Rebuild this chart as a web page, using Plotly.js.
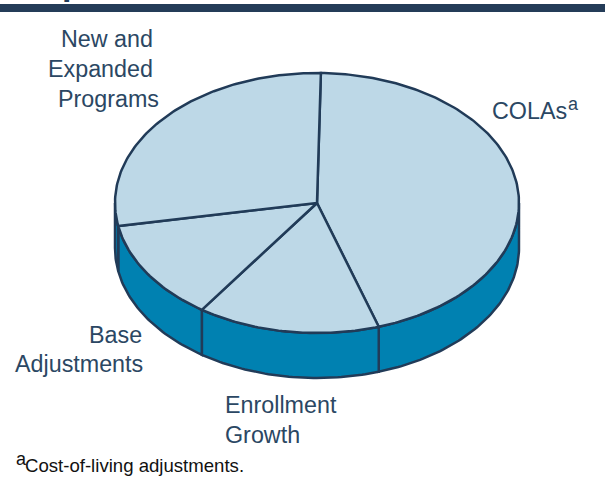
<!DOCTYPE html>
<html>
<head>
<meta charset="utf-8">
<script src="https://cdn.plot.ly/plotly-3.0.1.min.js"></script>
<style>html,body{margin:0;padding:0;background:#fff;overflow:hidden}#chart{width:605px;height:483px}</style>
</head>
<body>
<div id="chart"></div>
<script>
// Data: share of the pie, clockwise from the start angle
var categories = ["COLAs", "Enrollment Growth", "Base Adjustments", "New and Expanded Programs"];
var values = [44.75, 14.6, 12.5, 28.15];
var startAngle = 1.1;

// Label lines
var labelLines = ["New and", "Expanded", "Programs", "COLAs", "Base", "Adjustments", "Enrollment", "Growth"];
var labelX = [60, 47, 57, 491, 88, 14, 224, 224];
var labelY = [39, 69, 99, 111, 335, 364, 405, 435];
var supLines = ["a", "a"];
var supX = [567, 15];
var supY = [104, 459];
var supSize = [18, 18];
var footnoteText = "Cost-of-living adjustments.";

// Geometry and style
var W = 605, H = 483, cx = 317, cy = 203, rx = 202, ry = 130, depth = 45;
var topColor = "#BDD8E7", sideColor = "#0081B1", lineColor = "#213B58", textColor = "#2B4763";
var fontFamily = "Liberation Sans, Arial, sans-serif";

function px(a) { return cx + rx * Math.sin(a * Math.PI / 180); }
function py(a) { return cy - ry * Math.cos(a * Math.PI / 180); }
function arc(a0, a1) {
  var out = [], n = Math.max(2, Math.ceil(Math.abs(a1 - a0)));
  for (var i = 0; i <= n; i++) out.push(a0 + (a1 - a0) * i / n);
  return out;
}

var total = values.reduce(function (s, v) { return s + v; }, 0);
var angle = startAngle, wallTraces = [], topTraces = [];
values.forEach(function (v, idx) {
  var a0 = angle, a1 = angle + v / total * 360;
  angle = a1;
  var w0 = Math.max(a0, 90), w1 = Math.min(a1, 270);
  if (w1 > w0) {
    var w = arc(w0, w1), wr = w.slice().reverse();
    wallTraces.push({
      type: "scatter", mode: "lines", fill: "toself", fillcolor: sideColor, name: categories[idx] + " side",
      x: w.map(px).concat(wr.map(px)).concat([px(w[0])]),
      y: w.map(py).concat(wr.map(function (a) { return py(a) + depth; })).concat([py(w[0])]),
      line: { color: lineColor, width: 2.5 }, hoverinfo: "skip"
    });
  }
  var t = arc(a0, a1);
  topTraces.push({
    type: "scatter", mode: "lines", fill: "toself", fillcolor: topColor, name: categories[idx],
    x: [cx].concat(t.map(px)).concat([cx]),
    y: [cy].concat(t.map(py)).concat([cy]),
    line: { color: lineColor, width: 2.5 }, hoverinfo: "skip"
  });
});

function note(text, x, y, size, color, anchor) {
  return { text: text, x: x, y: y, xref: "x", yref: "y", xanchor: "left", yanchor: anchor || "middle",
    showarrow: false, borderpad: 0, font: { family: fontFamily, size: size, color: color } };
}
var annotations = labelLines.map(function (txt, i) { return note(txt, labelX[i], labelY[i], 23.3, textColor); });
annotations.push(note(supLines[0], supX[0], supY[0], supSize[0], textColor));
annotations.push(note(supLines[1], supX[1], supY[1], supSize[1], "#111111"));
annotations.push(note(footnoteText, 24, 465, 18.6, "#111111"));
annotations.push(note("<b>p</b>", 61, 3, 34, lineColor, "bottom"));

Plotly.newPlot("chart", wallTraces.concat(topTraces), {
  width: W, height: H, margin: { l: 0, r: 0, t: 0, b: 0, pad: 0 },
  paper_bgcolor: "#fff", plot_bgcolor: "#fff", showlegend: false,
  xaxis: { range: [0, W], visible: false, fixedrange: true },
  yaxis: { range: [H, 0], visible: false, fixedrange: true },
  annotations: annotations,
  shapes: [{ type: "rect", xref: "x", yref: "y", x0: 0, x1: W, y0: 4, y1: 12, fillcolor: "#243C58", line: { width: 0 } }]
}, { displayModeBar: false, staticPlot: true });
</script>
</body>
</html>
